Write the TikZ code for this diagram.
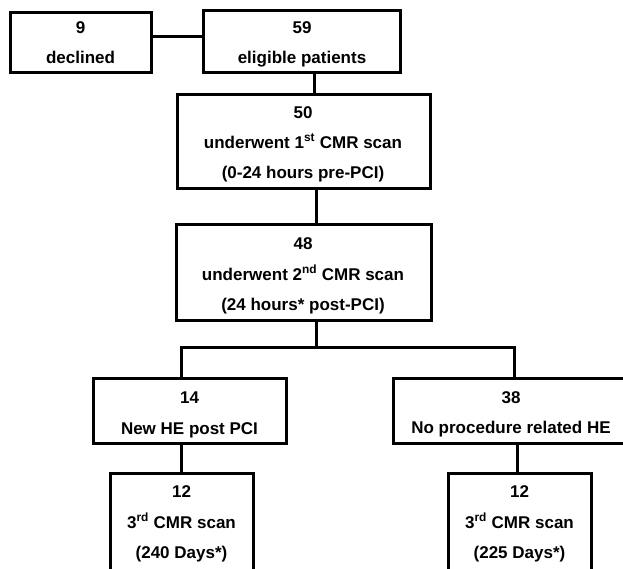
\documentclass[tikz,border=0pt]{standalone}
\usepackage{fontspec}
\setmainfont{Liberation Sans}
\begin{document}
\begin{tikzpicture}[x=1pt,y=1pt,
  box/.style={draw=black, line width=3pt, inner sep=0pt, outer sep=0pt, rectangle},
  txt/.style={anchor=base, inner sep=0pt, font=\fontsize{17}{20}\selectfont\bfseries},
  conn/.style={draw=black, line width=3pt}]
\clip (0,0) rectangle (623,-568);
\fill[white] (0,0) rectangle (623,-568);
% boxes
\node[box, minimum width=141pt, minimum height=60pt] (decl) at (80.5,-42) {};
\node[box, minimum width=197pt, minimum height=62pt] (elig) at (301.5,-41) {};
\node[box, minimum width=253pt, minimum height=94pt] (b50) at (303.5,-141) {};
\node[box, minimum width=255pt, minimum height=96pt] (b48) at (303.5,-272) {};
\node[box, minimum width=193pt, minimum height=65pt] (b14) at (189.5,-410.5) {};
\node[box, minimum width=236pt, minimum height=65pt] (b38) at (511,-410.5) {};
\node[box, minimum width=143pt, minimum height=100pt] (b12a) at (181.5,-523) {};
\node[box, minimum width=143pt, minimum height=100pt] (b12b) at (519.5,-523) {};
% texts
\node[txt] (t9) at (80.5,-33) {9};
\node[txt] (tdecl) at (80.5,-63) {declined};
\node[txt] (t59) at (302,-33) {59};
\node[txt] (telig) at (302,-63) {eligible patients};
\node[txt] (t50) at (303,-118) {50};
\node[txt] (t50b) at (303,-148) {underwent 1\textsuperscript{st} CMR scan};
\node[txt] (t50c) at (303,-178) {(0-24 hours pre-PCI)};
\node[txt] (t48) at (303,-249) {48};
\node[txt] (t48b) at (303,-280) {underwent 2\textsuperscript{nd} CMR scan};
\node[txt] (t48c) at (303,-310) {(24 hours* post-PCI)};
\node[txt] (t14) at (189.5,-403) {14};
\node[txt] (t14b) at (189.5,-434) {New HE post PCI};
\node[txt] (t38) at (511,-403) {38};
\node[txt] (t38b) at (511,-433) {No procedure related HE};
\node[txt] (t12a) at (181.5,-497) {12};
\node[txt] (t12ab) at (181.5,-528) {3\textsuperscript{rd} CMR scan};
\node[txt] (t12ac) at (181.5,-558) {(240 Days*)};
\node[txt] (t12b) at (519.5,-497) {12};
\node[txt] (t12bb) at (519.5,-528) {3\textsuperscript{rd} CMR scan};
\node[txt] (t12bc) at (519.5,-558) {(225 Days*)};
% helper coordinates
\coordinate (hy) at (0,-36);
\coordinate (x1) at (314,0);
\coordinate (x2) at (316,0);
\coordinate (j) at (316,-347);
\coordinate (jl) at (181,-347);
\coordinate (jr) at (514,-347);
\coordinate (x3) at (181,0);
\coordinate (x4) at (517,0);
% connectors
\draw[conn] (decl.east |- hy) -- (elig.west |- hy);
\draw[conn] (elig.south -| x1) -- (b50.north -| x1);
\draw[conn] (b50.south -| x2) -- (b48.north -| x2);
\draw[conn] (b48.south -| j) -- (j);
\draw[conn] (b14.north -| jl) -- (jl) -- (jr) -- (b38.north -| jr);
\draw[conn] (b14.south -| x3) -- (b12a.north -| x3);
\draw[conn] (b38.south -| x4) -- (b12b.north -| x4);
\end{tikzpicture}
\end{document}
